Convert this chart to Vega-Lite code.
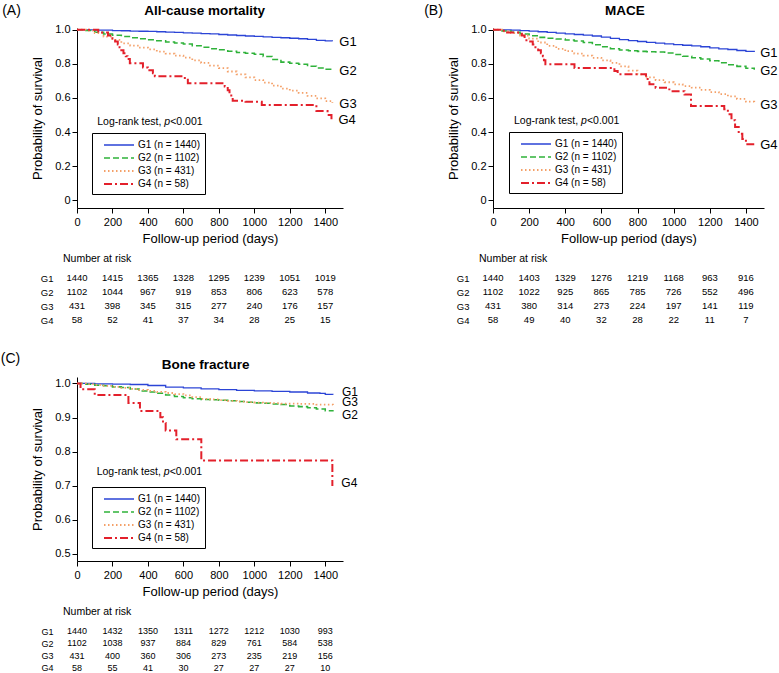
{
  "$schema": "https://vega.github.io/schema/vega-lite/v6.json",
  "padding": {"left": 0, "top": 3, "right": 0, "bottom": 0},
  "background": "white",
  "columns": 2,
  "align": "each",
  "spacing": {"row": 8, "column": 66},
  "resolve": {
    "scale": {"x": "independent", "y": "independent", "color": "independent", "strokeDash": "independent", "strokeWidth": "independent"},
    "legend": {"color": "independent", "strokeDash": "independent", "strokeWidth": "independent"}
  },
  "config": {
    "font": "Liberation Sans",
    "view": {"stroke": null},
    "axis": {"grid": false, "domainColor": "#000", "tickColor": "#000", "labelColor": "#000", "titleColor": "#000", "labelFontSize": 11, "titleFontSize": 13, "titleFontWeight": "normal", "tickSize": 5, "labelPadding": 3, "domainWidth": 1, "tickWidth": 1, "labelFlush": false},
    "legend": {"symbolType": "M0,0H5", "symbolSize": 144, "strokeColor": "#000", "padding": 5, "labelFontSize": 10, "labelColor": "#000", "rowPadding": 1, "labelOffset": 27, "direction": "vertical"},
    "text": {"color": "#000"}
  },
  "datasets": {
    "mortality": [
      {"group": "G1", "day": 0, "surv": 1}, {"group": "G1", "day": 50, "surv": 0.999}, {"group": "G1", "day": 100, "surv": 0.998}, {"group": "G1", "day": 150, "surv": 0.997}, {"group": "G1", "day": 200, "surv": 0.995}, {"group": "G1", "day": 250, "surv": 0.994}, {"group": "G1", "day": 300, "surv": 0.992}, {"group": "G1", "day": 350, "surv": 0.991}, {"group": "G1", "day": 400, "surv": 0.99}, {"group": "G1", "day": 450, "surv": 0.988}, {"group": "G1", "day": 500, "surv": 0.986}, {"group": "G1", "day": 550, "surv": 0.984}, {"group": "G1", "day": 600, "surv": 0.982}, {"group": "G1", "day": 650, "surv": 0.98}, {"group": "G1", "day": 700, "surv": 0.977}, {"group": "G1", "day": 750, "surv": 0.975}, {"group": "G1", "day": 800, "surv": 0.972}, {"group": "G1", "day": 850, "surv": 0.969}, {"group": "G1", "day": 900, "surv": 0.966}, {"group": "G1", "day": 950, "surv": 0.963}, {"group": "G1", "day": 1000, "surv": 0.961}, {"group": "G1", "day": 1050, "surv": 0.958}, {"group": "G1", "day": 1100, "surv": 0.955}, {"group": "G1", "day": 1150, "surv": 0.953}, {"group": "G1", "day": 1200, "surv": 0.95}, {"group": "G1", "day": 1250, "surv": 0.947}, {"group": "G1", "day": 1300, "surv": 0.943}, {"group": "G1", "day": 1350, "surv": 0.938}, {"group": "G1", "day": 1400, "surv": 0.934}, {"group": "G1", "day": 1440, "surv": 0.933},
      {"group": "G2", "day": 0, "surv": 1}, {"group": "G2", "day": 50, "surv": 0.995}, {"group": "G2", "day": 100, "surv": 0.985}, {"group": "G2", "day": 150, "surv": 0.975}, {"group": "G2", "day": 200, "surv": 0.968}, {"group": "G2", "day": 250, "surv": 0.96}, {"group": "G2", "day": 300, "surv": 0.953}, {"group": "G2", "day": 350, "surv": 0.947}, {"group": "G2", "day": 400, "surv": 0.941}, {"group": "G2", "day": 450, "surv": 0.935}, {"group": "G2", "day": 500, "surv": 0.928}, {"group": "G2", "day": 550, "surv": 0.922}, {"group": "G2", "day": 600, "surv": 0.916}, {"group": "G2", "day": 650, "surv": 0.906}, {"group": "G2", "day": 700, "surv": 0.897}, {"group": "G2", "day": 750, "surv": 0.889}, {"group": "G2", "day": 800, "surv": 0.882}, {"group": "G2", "day": 850, "surv": 0.874}, {"group": "G2", "day": 900, "surv": 0.866}, {"group": "G2", "day": 950, "surv": 0.862}, {"group": "G2", "day": 1000, "surv": 0.856}, {"group": "G2", "day": 1050, "surv": 0.843}, {"group": "G2", "day": 1100, "surv": 0.825}, {"group": "G2", "day": 1150, "surv": 0.81}, {"group": "G2", "day": 1200, "surv": 0.804}, {"group": "G2", "day": 1250, "surv": 0.797}, {"group": "G2", "day": 1300, "surv": 0.786}, {"group": "G2", "day": 1350, "surv": 0.776}, {"group": "G2", "day": 1400, "surv": 0.768}, {"group": "G2", "day": 1440, "surv": 0.764},
      {"group": "G3", "day": 0, "surv": 1}, {"group": "G3", "day": 50, "surv": 0.995}, {"group": "G3", "day": 100, "surv": 0.98}, {"group": "G3", "day": 150, "surv": 0.96}, {"group": "G3", "day": 200, "surv": 0.94}, {"group": "G3", "day": 250, "surv": 0.92}, {"group": "G3", "day": 300, "surv": 0.907}, {"group": "G3", "day": 350, "surv": 0.895}, {"group": "G3", "day": 400, "surv": 0.885}, {"group": "G3", "day": 450, "surv": 0.872}, {"group": "G3", "day": 500, "surv": 0.86}, {"group": "G3", "day": 550, "surv": 0.848}, {"group": "G3", "day": 600, "surv": 0.836}, {"group": "G3", "day": 650, "surv": 0.82}, {"group": "G3", "day": 700, "surv": 0.805}, {"group": "G3", "day": 750, "surv": 0.79}, {"group": "G3", "day": 800, "surv": 0.775}, {"group": "G3", "day": 850, "surv": 0.755}, {"group": "G3", "day": 900, "surv": 0.738}, {"group": "G3", "day": 950, "surv": 0.72}, {"group": "G3", "day": 1000, "surv": 0.705}, {"group": "G3", "day": 1050, "surv": 0.69}, {"group": "G3", "day": 1100, "surv": 0.672}, {"group": "G3", "day": 1150, "surv": 0.655}, {"group": "G3", "day": 1200, "surv": 0.643}, {"group": "G3", "day": 1250, "surv": 0.63}, {"group": "G3", "day": 1300, "surv": 0.612}, {"group": "G3", "day": 1350, "surv": 0.598}, {"group": "G3", "day": 1400, "surv": 0.582}, {"group": "G3", "day": 1440, "surv": 0.57},
      {"group": "G4", "day": 0, "surv": 1}, {"group": "G4", "day": 120, "surv": 0.983}, {"group": "G4", "day": 175, "surv": 0.966}, {"group": "G4", "day": 200, "surv": 0.948}, {"group": "G4", "day": 215, "surv": 0.931}, {"group": "G4", "day": 230, "surv": 0.914}, {"group": "G4", "day": 240, "surv": 0.897}, {"group": "G4", "day": 250, "surv": 0.879}, {"group": "G4", "day": 262, "surv": 0.862}, {"group": "G4", "day": 275, "surv": 0.845}, {"group": "G4", "day": 285, "surv": 0.828}, {"group": "G4", "day": 298, "surv": 0.803}, {"group": "G4", "day": 372, "surv": 0.779}, {"group": "G4", "day": 400, "surv": 0.762}, {"group": "G4", "day": 428, "surv": 0.745}, {"group": "G4", "day": 439, "surv": 0.727}, {"group": "G4", "day": 608, "surv": 0.706}, {"group": "G4", "day": 625, "surv": 0.686}, {"group": "G4", "day": 833, "surv": 0.667}, {"group": "G4", "day": 850, "surv": 0.645}, {"group": "G4", "day": 860, "surv": 0.623}, {"group": "G4", "day": 870, "surv": 0.601}, {"group": "G4", "day": 878, "surv": 0.584}, {"group": "G4", "day": 950, "surv": 0.578}, {"group": "G4", "day": 1042, "surv": 0.559}, {"group": "G4", "day": 1350, "surv": 0.523}, {"group": "G4", "day": 1413, "surv": 0.5}, {"group": "G4", "day": 1435, "surv": 0.475}
    ],
    "mace": [
      {"group": "G1", "day": 0, "surv": 1}, {"group": "G1", "day": 50, "surv": 0.999}, {"group": "G1", "day": 100, "surv": 0.997}, {"group": "G1", "day": 150, "surv": 0.995}, {"group": "G1", "day": 200, "surv": 0.992}, {"group": "G1", "day": 250, "surv": 0.988}, {"group": "G1", "day": 300, "surv": 0.984}, {"group": "G1", "day": 350, "surv": 0.98}, {"group": "G1", "day": 400, "surv": 0.976}, {"group": "G1", "day": 450, "surv": 0.972}, {"group": "G1", "day": 500, "surv": 0.968}, {"group": "G1", "day": 550, "surv": 0.963}, {"group": "G1", "day": 600, "surv": 0.956}, {"group": "G1", "day": 650, "surv": 0.949}, {"group": "G1", "day": 700, "surv": 0.942}, {"group": "G1", "day": 750, "surv": 0.936}, {"group": "G1", "day": 800, "surv": 0.931}, {"group": "G1", "day": 850, "surv": 0.926}, {"group": "G1", "day": 900, "surv": 0.921}, {"group": "G1", "day": 950, "surv": 0.917}, {"group": "G1", "day": 1000, "surv": 0.913}, {"group": "G1", "day": 1050, "surv": 0.909}, {"group": "G1", "day": 1100, "surv": 0.905}, {"group": "G1", "day": 1150, "surv": 0.9}, {"group": "G1", "day": 1200, "surv": 0.893}, {"group": "G1", "day": 1250, "surv": 0.888}, {"group": "G1", "day": 1300, "surv": 0.884}, {"group": "G1", "day": 1350, "surv": 0.878}, {"group": "G1", "day": 1400, "surv": 0.873}, {"group": "G1", "day": 1446, "surv": 0.87},
      {"group": "G2", "day": 0, "surv": 1}, {"group": "G2", "day": 50, "surv": 0.993}, {"group": "G2", "day": 100, "surv": 0.985}, {"group": "G2", "day": 150, "surv": 0.975}, {"group": "G2", "day": 200, "surv": 0.965}, {"group": "G2", "day": 250, "surv": 0.955}, {"group": "G2", "day": 300, "surv": 0.95}, {"group": "G2", "day": 350, "surv": 0.946}, {"group": "G2", "day": 400, "surv": 0.94}, {"group": "G2", "day": 450, "surv": 0.934}, {"group": "G2", "day": 500, "surv": 0.925}, {"group": "G2", "day": 550, "surv": 0.912}, {"group": "G2", "day": 600, "surv": 0.9}, {"group": "G2", "day": 650, "surv": 0.888}, {"group": "G2", "day": 700, "surv": 0.881}, {"group": "G2", "day": 750, "surv": 0.877}, {"group": "G2", "day": 800, "surv": 0.873}, {"group": "G2", "day": 850, "surv": 0.871}, {"group": "G2", "day": 900, "surv": 0.869}, {"group": "G2", "day": 950, "surv": 0.863}, {"group": "G2", "day": 1000, "surv": 0.855}, {"group": "G2", "day": 1050, "surv": 0.845}, {"group": "G2", "day": 1100, "surv": 0.836}, {"group": "G2", "day": 1150, "surv": 0.828}, {"group": "G2", "day": 1200, "surv": 0.818}, {"group": "G2", "day": 1250, "surv": 0.806}, {"group": "G2", "day": 1300, "surv": 0.795}, {"group": "G2", "day": 1350, "surv": 0.785}, {"group": "G2", "day": 1400, "surv": 0.774}, {"group": "G2", "day": 1446, "surv": 0.766},
      {"group": "G3", "day": 0, "surv": 1}, {"group": "G3", "day": 50, "surv": 0.99}, {"group": "G3", "day": 100, "surv": 0.98}, {"group": "G3", "day": 150, "surv": 0.965}, {"group": "G3", "day": 200, "surv": 0.948}, {"group": "G3", "day": 250, "surv": 0.925}, {"group": "G3", "day": 300, "surv": 0.905}, {"group": "G3", "day": 350, "surv": 0.888}, {"group": "G3", "day": 400, "surv": 0.874}, {"group": "G3", "day": 450, "surv": 0.86}, {"group": "G3", "day": 500, "surv": 0.848}, {"group": "G3", "day": 550, "surv": 0.835}, {"group": "G3", "day": 600, "surv": 0.82}, {"group": "G3", "day": 650, "surv": 0.805}, {"group": "G3", "day": 700, "surv": 0.785}, {"group": "G3", "day": 750, "surv": 0.76}, {"group": "G3", "day": 800, "surv": 0.738}, {"group": "G3", "day": 850, "surv": 0.72}, {"group": "G3", "day": 900, "surv": 0.705}, {"group": "G3", "day": 950, "surv": 0.692}, {"group": "G3", "day": 1000, "surv": 0.68}, {"group": "G3", "day": 1050, "surv": 0.67}, {"group": "G3", "day": 1100, "surv": 0.66}, {"group": "G3", "day": 1150, "surv": 0.647}, {"group": "G3", "day": 1200, "surv": 0.634}, {"group": "G3", "day": 1250, "surv": 0.622}, {"group": "G3", "day": 1300, "surv": 0.609}, {"group": "G3", "day": 1350, "surv": 0.594}, {"group": "G3", "day": 1400, "surv": 0.578}, {"group": "G3", "day": 1446, "surv": 0.563},
      {"group": "G4", "day": 0, "surv": 1}, {"group": "G4", "day": 60, "surv": 0.983}, {"group": "G4", "day": 160, "surv": 0.966}, {"group": "G4", "day": 175, "surv": 0.948}, {"group": "G4", "day": 185, "surv": 0.931}, {"group": "G4", "day": 220, "surv": 0.914}, {"group": "G4", "day": 235, "surv": 0.897}, {"group": "G4", "day": 250, "surv": 0.879}, {"group": "G4", "day": 265, "surv": 0.862}, {"group": "G4", "day": 276, "surv": 0.845}, {"group": "G4", "day": 282, "surv": 0.821}, {"group": "G4", "day": 290, "surv": 0.797}, {"group": "G4", "day": 451, "surv": 0.776}, {"group": "G4", "day": 672, "surv": 0.758}, {"group": "G4", "day": 690, "surv": 0.739}, {"group": "G4", "day": 847, "surv": 0.72}, {"group": "G4", "day": 856, "surv": 0.7}, {"group": "G4", "day": 866, "surv": 0.68}, {"group": "G4", "day": 900, "surv": 0.66}, {"group": "G4", "day": 976, "surv": 0.64}, {"group": "G4", "day": 1060, "surv": 0.62}, {"group": "G4", "day": 1096, "surv": 0.553}, {"group": "G4", "day": 1280, "surv": 0.534}, {"group": "G4", "day": 1300, "surv": 0.505}, {"group": "G4", "day": 1320, "surv": 0.47}, {"group": "G4", "day": 1340, "surv": 0.43}, {"group": "G4", "day": 1360, "surv": 0.39}, {"group": "G4", "day": 1380, "surv": 0.36}, {"group": "G4", "day": 1400, "surv": 0.328}, {"group": "G4", "day": 1446, "surv": 0.328}
    ],
    "fracture": [
      {"group": "G1", "day": 0, "surv": 1}, {"group": "G1", "day": 100, "surv": 0.999}, {"group": "G1", "day": 200, "surv": 0.998}, {"group": "G1", "day": 300, "surv": 0.997}, {"group": "G1", "day": 400, "surv": 0.994}, {"group": "G1", "day": 500, "surv": 0.989}, {"group": "G1", "day": 600, "surv": 0.987}, {"group": "G1", "day": 700, "surv": 0.984}, {"group": "G1", "day": 800, "surv": 0.982}, {"group": "G1", "day": 900, "surv": 0.98}, {"group": "G1", "day": 1000, "surv": 0.978}, {"group": "G1", "day": 1100, "surv": 0.977}, {"group": "G1", "day": 1200, "surv": 0.975}, {"group": "G1", "day": 1300, "surv": 0.972}, {"group": "G1", "day": 1370, "surv": 0.971}, {"group": "G1", "day": 1400, "surv": 0.968}, {"group": "G1", "day": 1443, "surv": 0.967},
      {"group": "G2", "day": 0, "surv": 1}, {"group": "G2", "day": 50, "surv": 0.998}, {"group": "G2", "day": 100, "surv": 0.995}, {"group": "G2", "day": 150, "surv": 0.993}, {"group": "G2", "day": 200, "surv": 0.99}, {"group": "G2", "day": 250, "surv": 0.988}, {"group": "G2", "day": 300, "surv": 0.984}, {"group": "G2", "day": 350, "surv": 0.978}, {"group": "G2", "day": 400, "surv": 0.975}, {"group": "G2", "day": 450, "surv": 0.971}, {"group": "G2", "day": 500, "surv": 0.966}, {"group": "G2", "day": 550, "surv": 0.962}, {"group": "G2", "day": 600, "surv": 0.958}, {"group": "G2", "day": 650, "surv": 0.955}, {"group": "G2", "day": 700, "surv": 0.953}, {"group": "G2", "day": 750, "surv": 0.952}, {"group": "G2", "day": 800, "surv": 0.951}, {"group": "G2", "day": 850, "surv": 0.949}, {"group": "G2", "day": 900, "surv": 0.947}, {"group": "G2", "day": 950, "surv": 0.945}, {"group": "G2", "day": 1000, "surv": 0.943}, {"group": "G2", "day": 1050, "surv": 0.942}, {"group": "G2", "day": 1100, "surv": 0.94}, {"group": "G2", "day": 1150, "surv": 0.938}, {"group": "G2", "day": 1200, "surv": 0.934}, {"group": "G2", "day": 1250, "surv": 0.932}, {"group": "G2", "day": 1300, "surv": 0.929}, {"group": "G2", "day": 1350, "surv": 0.925}, {"group": "G2", "day": 1400, "surv": 0.92}, {"group": "G2", "day": 1443, "surv": 0.918},
      {"group": "G3", "day": 0, "surv": 1}, {"group": "G3", "day": 50, "surv": 0.998}, {"group": "G3", "day": 100, "surv": 0.996}, {"group": "G3", "day": 150, "surv": 0.993}, {"group": "G3", "day": 200, "surv": 0.99}, {"group": "G3", "day": 250, "surv": 0.987}, {"group": "G3", "day": 300, "surv": 0.984}, {"group": "G3", "day": 350, "surv": 0.981}, {"group": "G3", "day": 400, "surv": 0.978}, {"group": "G3", "day": 450, "surv": 0.975}, {"group": "G3", "day": 500, "surv": 0.972}, {"group": "G3", "day": 550, "surv": 0.969}, {"group": "G3", "day": 600, "surv": 0.965}, {"group": "G3", "day": 650, "surv": 0.96}, {"group": "G3", "day": 700, "surv": 0.955}, {"group": "G3", "day": 750, "surv": 0.953}, {"group": "G3", "day": 800, "surv": 0.951}, {"group": "G3", "day": 850, "surv": 0.949}, {"group": "G3", "day": 900, "surv": 0.947}, {"group": "G3", "day": 950, "surv": 0.945}, {"group": "G3", "day": 1000, "surv": 0.944}, {"group": "G3", "day": 1050, "surv": 0.943}, {"group": "G3", "day": 1100, "surv": 0.942}, {"group": "G3", "day": 1150, "surv": 0.941}, {"group": "G3", "day": 1200, "surv": 0.941}, {"group": "G3", "day": 1250, "surv": 0.94}, {"group": "G3", "day": 1300, "surv": 0.94}, {"group": "G3", "day": 1350, "surv": 0.938}, {"group": "G3", "day": 1400, "surv": 0.938}, {"group": "G3", "day": 1443, "surv": 0.937},
      {"group": "G4", "day": 0, "surv": 1}, {"group": "G4", "day": 20, "surv": 0.983}, {"group": "G4", "day": 100, "surv": 0.966}, {"group": "G4", "day": 290, "surv": 0.943}, {"group": "G4", "day": 355, "surv": 0.919}, {"group": "G4", "day": 470, "surv": 0.901}, {"group": "G4", "day": 485, "surv": 0.884}, {"group": "G4", "day": 500, "surv": 0.862}, {"group": "G4", "day": 560, "surv": 0.836}, {"group": "G4", "day": 701, "surv": 0.774}, {"group": "G4", "day": 1440, "surv": 0.699}
    ],
    "riskMortality": [
      {"group": "G1", "day": 0, "n": 1440}, {"group": "G1", "day": 200, "n": 1415}, {"group": "G1", "day": 400, "n": 1365}, {"group": "G1", "day": 600, "n": 1328}, {"group": "G1", "day": 800, "n": 1295}, {"group": "G1", "day": 1000, "n": 1239}, {"group": "G1", "day": 1200, "n": 1051}, {"group": "G1", "day": 1400, "n": 1019},
      {"group": "G2", "day": 0, "n": 1102}, {"group": "G2", "day": 200, "n": 1044}, {"group": "G2", "day": 400, "n": 967}, {"group": "G2", "day": 600, "n": 919}, {"group": "G2", "day": 800, "n": 853}, {"group": "G2", "day": 1000, "n": 806}, {"group": "G2", "day": 1200, "n": 623}, {"group": "G2", "day": 1400, "n": 578},
      {"group": "G3", "day": 0, "n": 431}, {"group": "G3", "day": 200, "n": 398}, {"group": "G3", "day": 400, "n": 345}, {"group": "G3", "day": 600, "n": 315}, {"group": "G3", "day": 800, "n": 277}, {"group": "G3", "day": 1000, "n": 240}, {"group": "G3", "day": 1200, "n": 176}, {"group": "G3", "day": 1400, "n": 157},
      {"group": "G4", "day": 0, "n": 58}, {"group": "G4", "day": 200, "n": 52}, {"group": "G4", "day": 400, "n": 41}, {"group": "G4", "day": 600, "n": 37}, {"group": "G4", "day": 800, "n": 34}, {"group": "G4", "day": 1000, "n": 28}, {"group": "G4", "day": 1200, "n": 25}, {"group": "G4", "day": 1400, "n": 15}
    ],
    "riskMace": [
      {"group": "G1", "day": 0, "n": 1440}, {"group": "G1", "day": 200, "n": 1403}, {"group": "G1", "day": 400, "n": 1329}, {"group": "G1", "day": 600, "n": 1276}, {"group": "G1", "day": 800, "n": 1219}, {"group": "G1", "day": 1000, "n": 1168}, {"group": "G1", "day": 1200, "n": 963}, {"group": "G1", "day": 1400, "n": 916},
      {"group": "G2", "day": 0, "n": 1102}, {"group": "G2", "day": 200, "n": 1022}, {"group": "G2", "day": 400, "n": 925}, {"group": "G2", "day": 600, "n": 865}, {"group": "G2", "day": 800, "n": 785}, {"group": "G2", "day": 1000, "n": 726}, {"group": "G2", "day": 1200, "n": 552}, {"group": "G2", "day": 1400, "n": 496},
      {"group": "G3", "day": 0, "n": 431}, {"group": "G3", "day": 200, "n": 380}, {"group": "G3", "day": 400, "n": 314}, {"group": "G3", "day": 600, "n": 273}, {"group": "G3", "day": 800, "n": 224}, {"group": "G3", "day": 1000, "n": 197}, {"group": "G3", "day": 1200, "n": 141}, {"group": "G3", "day": 1400, "n": 119},
      {"group": "G4", "day": 0, "n": 58}, {"group": "G4", "day": 200, "n": 49}, {"group": "G4", "day": 400, "n": 40}, {"group": "G4", "day": 600, "n": 32}, {"group": "G4", "day": 800, "n": 28}, {"group": "G4", "day": 1000, "n": 22}, {"group": "G4", "day": 1200, "n": 11}, {"group": "G4", "day": 1400, "n": 7}
    ],
    "riskFracture": [
      {"group": "G1", "day": 0, "n": 1440}, {"group": "G1", "day": 200, "n": 1432}, {"group": "G1", "day": 400, "n": 1350}, {"group": "G1", "day": 600, "n": 1311}, {"group": "G1", "day": 800, "n": 1272}, {"group": "G1", "day": 1000, "n": 1212}, {"group": "G1", "day": 1200, "n": 1030}, {"group": "G1", "day": 1400, "n": 993},
      {"group": "G2", "day": 0, "n": 1102}, {"group": "G2", "day": 200, "n": 1038}, {"group": "G2", "day": 400, "n": 937}, {"group": "G2", "day": 600, "n": 884}, {"group": "G2", "day": 800, "n": 829}, {"group": "G2", "day": 1000, "n": 761}, {"group": "G2", "day": 1200, "n": 584}, {"group": "G2", "day": 1400, "n": 538},
      {"group": "G3", "day": 0, "n": 431}, {"group": "G3", "day": 200, "n": 400}, {"group": "G3", "day": 400, "n": 360}, {"group": "G3", "day": 600, "n": 306}, {"group": "G3", "day": 800, "n": 273}, {"group": "G3", "day": 1000, "n": 235}, {"group": "G3", "day": 1200, "n": 219}, {"group": "G3", "day": 1400, "n": 156},
      {"group": "G4", "day": 0, "n": 58}, {"group": "G4", "day": 200, "n": 55}, {"group": "G4", "day": 400, "n": 41}, {"group": "G4", "day": 600, "n": 30}, {"group": "G4", "day": 800, "n": 27}, {"group": "G4", "day": 1000, "n": 27}, {"group": "G4", "day": 1200, "n": 27}, {"group": "G4", "day": 1400, "n": 10}
    ]
  },
  "concat": [
    {
      "width": 266, "height": 180,
      "data": {"name": "mortality"},
      "encoding": {
        "x": {"field": "day", "type": "quantitative", "scale": {"domain": [0, 1500], "nice": false}, "axis": {"values": [0, 200, 400, 600, 800, 1000, 1200, 1400], "format": "d", "labelOverlap": false, "title": "Follow-up period (days)", "titlePadding": 5}},
        "y": {"field": "surv", "type": "quantitative", "scale": {"domain": [-0.045, 1.01], "nice": false, "zero": false}, "axis": {"values": [0, 0.2, 0.4, 0.6, 0.8, 1], "labelOverlap": false, "labelPadding": 2, "labelExpr": "datum.value == 0 ? '0' : format(datum.value, '.1f')", "title": "Probability of survival", "titlePadding": 10}}
      },
      "layer": [
        {
          "mark": {"type": "line", "interpolate": "step-after", "strokeCap": "butt"},
          "encoding": {
            "color": {"field": "group", "type": "nominal", "scale": {"domain": ["G1", "G2", "G3", "G4"], "range": ["#2b44d6", "#2fb23a", "#f4a068", "#e3202b"]}, "legend": {"orient": "none", "legendX": 15, "legendY": 105, "title": null, "labelExpr": "datum.label == 'G1' ? 'G1 (n = 1440)' : datum.label == 'G2' ? 'G2 (n = 1102)' : datum.label == 'G3' ? 'G3 (n = 431)' : 'G4 (n = 58)'"}},
            "strokeDash": {"field": "group", "type": "nominal", "scale": {"domain": ["G1", "G2", "G3", "G4"], "range": [[1, 0], [6, 3], [1.5, 2.5], [8, 3, 2, 3]]}, "legend": {"orient": "none", "legendX": 15, "legendY": 105, "title": null, "labelExpr": "datum.label == 'G1' ? 'G1 (n = 1440)' : datum.label == 'G2' ? 'G2 (n = 1102)' : datum.label == 'G3' ? 'G3 (n = 431)' : 'G4 (n = 58)'"}},
            "strokeWidth": {"field": "group", "type": "nominal", "scale": {"domain": ["G1", "G2", "G3", "G4"], "range": [1.3, 2, 1.8, 2]}, "legend": {"orient": "none", "legendX": 15, "legendY": 105, "title": null, "labelExpr": "datum.label == 'G1' ? 'G1 (n = 1440)' : datum.label == 'G2' ? 'G2 (n = 1102)' : datum.label == 'G3' ? 'G3 (n = 431)' : 'G4 (n = 58)'"}}
          }
        },
        {
          "transform": [{"joinaggregate": [{"op": "max", "field": "day", "as": "endDay"}], "groupby": ["group"]}, {"filter": "datum.day == datum.endDay"}],
          "mark": {"type": "text", "align": "left", "dx": 7, "dy": 1, "fontSize": 13},
          "encoding": {"text": {"field": "group"}}
        },
        {"transform": [{"filter": "datum.group == 'G1' && datum.day == 0"}], "mark": {"type": "text", "align": "left", "fontSize": 10.5}, "encoding": {"x": {"datum": 114, "type": "quantitative", "axis": {"values": [0, 200, 400, 600, 800, 1000, 1200, 1400], "format": "d", "labelOverlap": false, "title": "Follow-up period (days)", "titlePadding": 5}}, "y": {"datum": 0.461, "type": "quantitative", "axis": {"values": [0, 0.2, 0.4, 0.6, 0.8, 1], "labelOverlap": false, "labelPadding": 2, "labelExpr": "datum.value == 0 ? '0' : format(datum.value, '.1f')", "title": "Probability of survival", "titlePadding": 10}}, "text": {"value": "Log-rank test,"}}},
        {"transform": [{"filter": "datum.group == 'G1' && datum.day == 0"}], "mark": {"type": "text", "align": "left", "fontSize": 10.5, "fontStyle": "italic", "dx": 67}, "encoding": {"x": {"datum": 114, "type": "quantitative", "axis": {"values": [0, 200, 400, 600, 800, 1000, 1200, 1400], "format": "d", "labelOverlap": false, "title": "Follow-up period (days)", "titlePadding": 5}}, "y": {"datum": 0.461, "type": "quantitative", "axis": {"values": [0, 0.2, 0.4, 0.6, 0.8, 1], "labelOverlap": false, "labelPadding": 2, "labelExpr": "datum.value == 0 ? '0' : format(datum.value, '.1f')", "title": "Probability of survival", "titlePadding": 10}}, "text": {"value": "p"}}},
        {"transform": [{"filter": "datum.group == 'G1' && datum.day == 0"}], "mark": {"type": "text", "align": "left", "fontSize": 10.5, "dx": 73}, "encoding": {"x": {"datum": 114, "type": "quantitative", "axis": {"values": [0, 200, 400, 600, 800, 1000, 1200, 1400], "format": "d", "labelOverlap": false, "title": "Follow-up period (days)", "titlePadding": 5}}, "y": {"datum": 0.461, "type": "quantitative", "axis": {"values": [0, 0.2, 0.4, 0.6, 0.8, 1], "labelOverlap": false, "labelPadding": 2, "labelExpr": "datum.value == 0 ? '0' : format(datum.value, '.1f')", "title": "Probability of survival", "titlePadding": 10}}, "text": {"value": "<0.001"}}},
        {"transform": [{"filter": "datum.group == 'G1' && datum.day == 0"}], "mark": {"type": "text", "align": "left", "fontSize": 14}, "encoding": {"x": {"datum": -422, "type": "quantitative", "axis": {"values": [0, 200, 400, 600, 800, 1000, 1200, 1400], "format": "d", "labelOverlap": false, "title": "Follow-up period (days)", "titlePadding": 5}}, "y": {"datum": 1.11, "type": "quantitative", "axis": {"values": [0, 0.2, 0.4, 0.6, 0.8, 1], "labelOverlap": false, "labelPadding": 2, "labelExpr": "datum.value == 0 ? '0' : format(datum.value, '.1f')", "title": "Probability of survival", "titlePadding": 10}}, "text": {"value": "(A)"}}},
        {"transform": [{"filter": "datum.group == 'G1' && datum.day == 0"}], "mark": {"type": "text", "fontSize": 13.5, "fontWeight": "bold"}, "encoding": {"x": {"datum": 720, "type": "quantitative", "axis": {"values": [0, 200, 400, 600, 800, 1000, 1200, 1400], "format": "d", "labelOverlap": false, "title": "Follow-up period (days)", "titlePadding": 5}}, "y": {"datum": 1.11, "type": "quantitative", "axis": {"values": [0, 0.2, 0.4, 0.6, 0.8, 1], "labelOverlap": false, "labelPadding": 2, "labelExpr": "datum.value == 0 ? '0' : format(datum.value, '.1f')", "title": "Probability of survival", "titlePadding": 10}}, "text": {"value": "All-cause mortality"}}}
      ]
    },
    {
      "width": 271, "height": 180,
      "data": {"name": "mace"},
      "encoding": {
        "x": {"field": "day", "type": "quantitative", "scale": {"domain": [0, 1500], "nice": false}, "axis": {"values": [0, 200, 400, 600, 800, 1000, 1200, 1400], "format": "d", "labelOverlap": false, "title": "Follow-up period (days)", "titlePadding": 5}},
        "y": {"field": "surv", "type": "quantitative", "scale": {"domain": [-0.045, 1.01], "nice": false, "zero": false}, "axis": {"values": [0, 0.2, 0.4, 0.6, 0.8, 1], "labelOverlap": false, "labelPadding": 2, "labelExpr": "datum.value == 0 ? '0' : format(datum.value, '.1f')", "title": "Probability of survival", "titlePadding": 10}}
      },
      "layer": [
        {
          "mark": {"type": "line", "interpolate": "step-after", "strokeCap": "butt"},
          "encoding": {
            "color": {"field": "group", "type": "nominal", "scale": {"domain": ["G1", "G2", "G3", "G4"], "range": ["#2b44d6", "#2fb23a", "#f4a068", "#e3202b"]}, "legend": {"orient": "none", "legendX": 16, "legendY": 104, "title": null, "labelExpr": "datum.label == 'G1' ? 'G1 (n = 1440)' : datum.label == 'G2' ? 'G2 (n = 1102)' : datum.label == 'G3' ? 'G3 (n = 431)' : 'G4 (n = 58)'"}},
            "strokeDash": {"field": "group", "type": "nominal", "scale": {"domain": ["G1", "G2", "G3", "G4"], "range": [[1, 0], [6, 3], [1.5, 2.5], [8, 3, 2, 3]]}, "legend": {"orient": "none", "legendX": 16, "legendY": 104, "title": null, "labelExpr": "datum.label == 'G1' ? 'G1 (n = 1440)' : datum.label == 'G2' ? 'G2 (n = 1102)' : datum.label == 'G3' ? 'G3 (n = 431)' : 'G4 (n = 58)'"}},
            "strokeWidth": {"field": "group", "type": "nominal", "scale": {"domain": ["G1", "G2", "G3", "G4"], "range": [1.3, 2, 1.8, 2]}, "legend": {"orient": "none", "legendX": 16, "legendY": 104, "title": null, "labelExpr": "datum.label == 'G1' ? 'G1 (n = 1440)' : datum.label == 'G2' ? 'G2 (n = 1102)' : datum.label == 'G3' ? 'G3 (n = 431)' : 'G4 (n = 58)'"}}
          }
        },
        {
          "transform": [{"joinaggregate": [{"op": "max", "field": "day", "as": "endDay"}], "groupby": ["group"]}, {"filter": "datum.day == datum.endDay"}],
          "mark": {"type": "text", "align": "left", "dx": 6, "dy": 1, "fontSize": 13},
          "encoding": {"text": {"field": "group"}}
        },
        {"transform": [{"filter": "datum.group == 'G1' && datum.day == 0"}], "mark": {"type": "text", "align": "left", "fontSize": 10.5}, "encoding": {"x": {"datum": 116, "type": "quantitative", "axis": {"values": [0, 200, 400, 600, 800, 1000, 1200, 1400], "format": "d", "labelOverlap": false, "title": "Follow-up period (days)", "titlePadding": 5}}, "y": {"datum": 0.464, "type": "quantitative", "axis": {"values": [0, 0.2, 0.4, 0.6, 0.8, 1], "labelOverlap": false, "labelPadding": 2, "labelExpr": "datum.value == 0 ? '0' : format(datum.value, '.1f')", "title": "Probability of survival", "titlePadding": 10}}, "text": {"value": "Log-rank test,"}}},
        {"transform": [{"filter": "datum.group == 'G1' && datum.day == 0"}], "mark": {"type": "text", "align": "left", "fontSize": 10.5, "fontStyle": "italic", "dx": 67}, "encoding": {"x": {"datum": 116, "type": "quantitative", "axis": {"values": [0, 200, 400, 600, 800, 1000, 1200, 1400], "format": "d", "labelOverlap": false, "title": "Follow-up period (days)", "titlePadding": 5}}, "y": {"datum": 0.464, "type": "quantitative", "axis": {"values": [0, 0.2, 0.4, 0.6, 0.8, 1], "labelOverlap": false, "labelPadding": 2, "labelExpr": "datum.value == 0 ? '0' : format(datum.value, '.1f')", "title": "Probability of survival", "titlePadding": 10}}, "text": {"value": "p"}}},
        {"transform": [{"filter": "datum.group == 'G1' && datum.day == 0"}], "mark": {"type": "text", "align": "left", "fontSize": 10.5, "dx": 73}, "encoding": {"x": {"datum": 116, "type": "quantitative", "axis": {"values": [0, 200, 400, 600, 800, 1000, 1200, 1400], "format": "d", "labelOverlap": false, "title": "Follow-up period (days)", "titlePadding": 5}}, "y": {"datum": 0.464, "type": "quantitative", "axis": {"values": [0, 0.2, 0.4, 0.6, 0.8, 1], "labelOverlap": false, "labelPadding": 2, "labelExpr": "datum.value == 0 ? '0' : format(datum.value, '.1f')", "title": "Probability of survival", "titlePadding": 10}}, "text": {"value": "<0.001"}}},
        {"transform": [{"filter": "datum.group == 'G1' && datum.day == 0"}], "mark": {"type": "text", "align": "left", "fontSize": 14}, "encoding": {"x": {"datum": -381, "type": "quantitative", "axis": {"values": [0, 200, 400, 600, 800, 1000, 1200, 1400], "format": "d", "labelOverlap": false, "title": "Follow-up period (days)", "titlePadding": 5}}, "y": {"datum": 1.11, "type": "quantitative", "axis": {"values": [0, 0.2, 0.4, 0.6, 0.8, 1], "labelOverlap": false, "labelPadding": 2, "labelExpr": "datum.value == 0 ? '0' : format(datum.value, '.1f')", "title": "Probability of survival", "titlePadding": 10}}, "text": {"value": "(B)"}}},
        {"transform": [{"filter": "datum.group == 'G1' && datum.day == 0"}], "mark": {"type": "text", "fontSize": 13.5, "fontWeight": "bold"}, "encoding": {"x": {"datum": 730, "type": "quantitative", "axis": {"values": [0, 200, 400, 600, 800, 1000, 1200, 1400], "format": "d", "labelOverlap": false, "title": "Follow-up period (days)", "titlePadding": 5}}, "y": {"datum": 1.11, "type": "quantitative", "axis": {"values": [0, 0.2, 0.4, 0.6, 0.8, 1], "labelOverlap": false, "labelPadding": 2, "labelExpr": "datum.value == 0 ? '0' : format(datum.value, '.1f')", "title": "Probability of survival", "titlePadding": 10}}, "text": {"value": "MACE"}}}
      ]
    },
    {
      "width": 266, "height": 70,
      "title": {"text": "Number at risk", "anchor": "start", "frame": "group", "fontSize": 10.5, "fontWeight": "normal", "color": "#000", "dx": -14, "offset": 9},
      "data": {"name": "riskMortality"},
      "mark": {"type": "text", "fontSize": 9.5},
      "encoding": {
        "x": {"field": "day", "type": "quantitative", "scale": {"domain": [0, 1500], "nice": false}, "axis": null},
        "y": {"field": "group", "type": "nominal", "scale": {"type": "point", "domain": ["G1", "G2", "G3", "G4"], "padding": 1.3, "align": 0.15}, "axis": {"title": null, "domain": false, "ticks": false, "labelPadding": 24, "labelFontSize": 9.5}},
        "text": {"field": "n"}
      }
    },
    {
      "width": 271, "height": 70,
      "title": {"text": "Number at risk", "anchor": "start", "frame": "group", "fontSize": 10.5, "fontWeight": "normal", "color": "#000", "dx": -14, "offset": 9},
      "data": {"name": "riskMace"},
      "mark": {"type": "text", "fontSize": 9.5},
      "encoding": {
        "x": {"field": "day", "type": "quantitative", "scale": {"domain": [0, 1500], "nice": false}, "axis": null},
        "y": {"field": "group", "type": "nominal", "scale": {"type": "point", "domain": ["G1", "G2", "G3", "G4"], "padding": 1.3, "align": 0.15}, "axis": {"title": null, "domain": false, "ticks": false, "labelPadding": 24, "labelFontSize": 9.5}},
        "text": {"field": "n"}
      }
    },
    {
      "width": 266, "height": 184,
      "data": {"name": "fracture"},
      "encoding": {
        "x": {"field": "day", "type": "quantitative", "scale": {"domain": [0, 1500], "nice": false}, "axis": {"values": [0, 200, 400, 600, 800, 1000, 1200, 1400], "format": "d", "labelOverlap": false, "title": "Follow-up period (days)", "titlePadding": 5}},
        "y": {"field": "surv", "type": "quantitative", "scale": {"domain": [0.4786, 1.019], "nice": false, "zero": false}, "axis": {"values": [0.5, 0.6, 0.7, 0.8, 0.9, 1], "labelOverlap": false, "labelPadding": 2, "format": ".1f", "title": "Probability of survival", "titlePadding": 10}}
      },
      "layer": [
        {
          "mark": {"type": "line", "interpolate": "step-after", "strokeCap": "butt"},
          "encoding": {
            "color": {"field": "group", "type": "nominal", "scale": {"domain": ["G1", "G2", "G3", "G4"], "range": ["#2b44d6", "#2fb23a", "#f4a068", "#e3202b"]}, "legend": {"orient": "none", "legendX": 15, "legendY": 110, "title": null, "labelExpr": "datum.label == 'G1' ? 'G1 (n = 1440)' : datum.label == 'G2' ? 'G2 (n = 1102)' : datum.label == 'G3' ? 'G3 (n = 431)' : 'G4 (n = 58)'"}},
            "strokeDash": {"field": "group", "type": "nominal", "scale": {"domain": ["G1", "G2", "G3", "G4"], "range": [[1, 0], [6, 3], [1.5, 2.5], [8, 3, 2, 3]]}, "legend": {"orient": "none", "legendX": 15, "legendY": 110, "title": null, "labelExpr": "datum.label == 'G1' ? 'G1 (n = 1440)' : datum.label == 'G2' ? 'G2 (n = 1102)' : datum.label == 'G3' ? 'G3 (n = 431)' : 'G4 (n = 58)'"}},
            "strokeWidth": {"field": "group", "type": "nominal", "scale": {"domain": ["G1", "G2", "G3", "G4"], "range": [1.3, 2, 1.8, 2]}, "legend": {"orient": "none", "legendX": 15, "legendY": 110, "title": null, "labelExpr": "datum.label == 'G1' ? 'G1 (n = 1440)' : datum.label == 'G2' ? 'G2 (n = 1102)' : datum.label == 'G3' ? 'G3 (n = 431)' : 'G4 (n = 58)'"}}
          }
        },
        {
          "transform": [{"joinaggregate": [{"op": "max", "field": "day", "as": "endDay"}], "groupby": ["group"]}, {"filter": "datum.day == datum.endDay && datum.group != 'G2'"}],
          "mark": {"type": "text", "align": "left", "dx": 9, "dy": -2.5, "fontSize": 12},
          "encoding": {"text": {"field": "group"}}
        },
        {
          "transform": [{"joinaggregate": [{"op": "max", "field": "day", "as": "endDay"}], "groupby": ["group"]}, {"filter": "datum.day == datum.endDay && datum.group == 'G2'"}],
          "mark": {"type": "text", "align": "left", "dx": 9, "dy": 4, "fontSize": 12},
          "encoding": {"text": {"field": "group"}}
        },
        {"transform": [{"filter": "datum.group == 'G1' && datum.day == 0"}], "mark": {"type": "text", "align": "left", "fontSize": 10.5}, "encoding": {"x": {"datum": 111, "type": "quantitative", "axis": {"values": [0, 200, 400, 600, 800, 1000, 1200, 1400], "format": "d", "labelOverlap": false, "title": "Follow-up period (days)", "titlePadding": 5}}, "y": {"datum": 0.741, "type": "quantitative", "axis": {"values": [0.5, 0.6, 0.7, 0.8, 0.9, 1], "labelOverlap": false, "labelPadding": 2, "format": ".1f", "title": "Probability of survival", "titlePadding": 10}}, "text": {"value": "Log-rank test,"}}},
        {"transform": [{"filter": "datum.group == 'G1' && datum.day == 0"}], "mark": {"type": "text", "align": "left", "fontSize": 10.5, "fontStyle": "italic", "dx": 67}, "encoding": {"x": {"datum": 111, "type": "quantitative", "axis": {"values": [0, 200, 400, 600, 800, 1000, 1200, 1400], "format": "d", "labelOverlap": false, "title": "Follow-up period (days)", "titlePadding": 5}}, "y": {"datum": 0.741, "type": "quantitative", "axis": {"values": [0.5, 0.6, 0.7, 0.8, 0.9, 1], "labelOverlap": false, "labelPadding": 2, "format": ".1f", "title": "Probability of survival", "titlePadding": 10}}, "text": {"value": "p"}}},
        {"transform": [{"filter": "datum.group == 'G1' && datum.day == 0"}], "mark": {"type": "text", "align": "left", "fontSize": 10.5, "dx": 73}, "encoding": {"x": {"datum": 111, "type": "quantitative", "axis": {"values": [0, 200, 400, 600, 800, 1000, 1200, 1400], "format": "d", "labelOverlap": false, "title": "Follow-up period (days)", "titlePadding": 5}}, "y": {"datum": 0.741, "type": "quantitative", "axis": {"values": [0.5, 0.6, 0.7, 0.8, 0.9, 1], "labelOverlap": false, "labelPadding": 2, "format": ".1f", "title": "Probability of survival", "titlePadding": 10}}, "text": {"value": "<0.001"}}},
        {"transform": [{"filter": "datum.group == 'G1' && datum.day == 0"}], "mark": {"type": "text", "align": "left", "fontSize": 14}, "encoding": {"x": {"datum": -430, "type": "quantitative", "axis": {"values": [0, 200, 400, 600, 800, 1000, 1200, 1400], "format": "d", "labelOverlap": false, "title": "Follow-up period (days)", "titlePadding": 5}}, "y": {"datum": 1.071, "type": "quantitative", "axis": {"values": [0.5, 0.6, 0.7, 0.8, 0.9, 1], "labelOverlap": false, "labelPadding": 2, "format": ".1f", "title": "Probability of survival", "titlePadding": 10}}, "text": {"value": "(C)"}}},
        {"transform": [{"filter": "datum.group == 'G1' && datum.day == 0"}], "mark": {"type": "text", "fontSize": 13.5, "fontWeight": "bold"}, "encoding": {"x": {"datum": 726, "type": "quantitative", "axis": {"values": [0, 200, 400, 600, 800, 1000, 1200, 1400], "format": "d", "labelOverlap": false, "title": "Follow-up period (days)", "titlePadding": 5}}, "y": {"datum": 1.055, "type": "quantitative", "axis": {"values": [0.5, 0.6, 0.7, 0.8, 0.9, 1], "labelOverlap": false, "labelPadding": 2, "format": ".1f", "title": "Probability of survival", "titlePadding": 10}}, "text": {"value": "Bone fracture"}}}
      ]
    },
    {
      "width": 1, "height": 1,
      "data": {"values": []},
      "mark": {"type": "point", "opacity": 0}
    },
    {
      "width": 266, "height": 49,
      "title": {"text": "Number at risk", "anchor": "start", "frame": "group", "fontSize": 10.5, "fontWeight": "normal", "color": "#000", "dx": -14, "offset": 8},
      "data": {"name": "riskFracture"},
      "mark": {"type": "text", "fontSize": 9},
      "encoding": {
        "x": {"field": "day", "type": "quantitative", "scale": {"domain": [0, 1500], "nice": false}, "axis": null},
        "y": {"field": "group", "type": "nominal", "scale": {"type": "point", "domain": ["G1", "G2", "G3", "G4"], "padding": 0.5}, "axis": {"title": null, "domain": false, "ticks": false, "labelPadding": 24, "labelFontSize": 9}},
        "text": {"field": "n"}
      }
    }
  ]
}
